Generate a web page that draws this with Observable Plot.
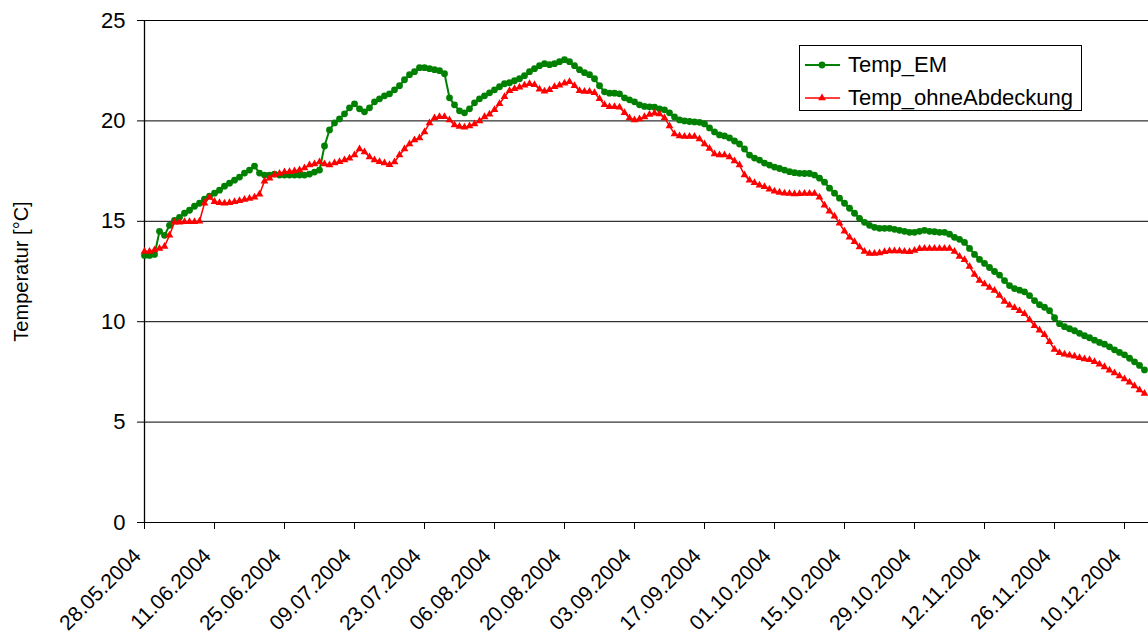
<!DOCTYPE html>
<html>
<head>
<meta charset="utf-8">
<script src="https://cdn.jsdelivr.net/npm/d3@7"></script>
<script src="https://cdn.jsdelivr.net/npm/@observablehq/plot@0.6"></script>
<style>
  html, body { margin: 0; padding: 0; background: #fff; }
  #wrap { position: relative; width: 1148px; height: 638px; overflow: hidden; font-family: "Liberation Sans", Arial, sans-serif; }
  #legend { position: absolute; left: 799px; top: 45px; width: 281px; height: 64px; border: 1px solid #000; background: #fff; font-size: 22px; color: #000; }
  .row { position: absolute; left: 0; height: 30px; display: flex; align-items: center; }
  .row svg { margin-left: 5px; margin-right: 8px; }
</style>
</head>
<body>
<div id="wrap">
  <div id="chart"></div>
  <div id="legend"></div>
</div>
<script>
// ---- data (daily values) ----
const startDate = "2004-05-28";
const seriesNames = ["Temp_EM", "Temp_ohneAbdeckung"];
const seriesColors = ["#008000", "#ff0000"];
const tempEM = [
13.3,13.3,13.35,14.5,14.3,14.8,15.05,15.2,15.4,15.55,
15.75,15.9,16.1,16.25,16.4,16.55,16.75,16.9,17.05,17.2,
17.4,17.55,17.75,17.4,17.3,17.3,17.35,17.3,17.3,17.3,
17.3,17.3,17.3,17.35,17.45,17.55,18.75,19.55,19.9,20.1,
20.35,20.65,20.85,20.6,20.45,20.65,20.95,21.1,21.25,21.35,
21.55,21.75,22.05,22.3,22.45,22.65,22.65,22.6,22.55,22.5,
22.35,21.15,20.8,20.5,20.4,20.6,20.9,21.1,21.25,21.4,
21.55,21.7,21.85,21.9,22.0,22.1,22.25,22.45,22.6,22.75,
22.85,22.8,22.85,22.95,23.05,22.95,22.75,22.55,22.4,22.3,
22.1,21.75,21.45,21.38,21.38,21.35,21.15,21.05,20.95,20.8,
20.72,20.7,20.68,20.6,20.55,20.4,20.2,20.05,20.0,19.97,
19.95,19.93,19.85,19.65,19.45,19.3,19.25,19.15,19.0,18.85,
18.6,18.3,18.15,18.05,17.9,17.8,17.7,17.63,17.55,17.47,
17.42,17.39,17.38,17.38,17.3,17.15,16.95,16.65,16.4,16.15,
15.9,15.65,15.4,15.15,14.95,14.8,14.7,14.65,14.65,14.65,
14.6,14.55,14.5,14.45,14.45,14.5,14.55,14.5,14.48,14.45,
14.45,14.36,14.2,14.1,13.95,13.65,13.35,13.1,12.9,12.7,
12.5,12.32,12.05,11.8,11.65,11.57,11.49,11.3,11.05,10.85,
10.72,10.55,10.2,9.9,9.75,9.65,9.55,9.42,9.3,9.2,
9.08,8.97,8.88,8.75,8.6,8.47,8.35,8.18,8.0,7.82,
7.6
];
const tempOhne = [
13.5,13.5,13.57,13.65,13.75,14.3,14.95,14.95,14.98,14.98,
14.98,15.0,15.9,16.2,15.98,15.92,15.9,15.92,15.97,16.02,
16.08,16.13,16.2,16.35,17.0,17.15,17.3,17.38,17.45,17.47,
17.5,17.56,17.65,17.8,17.85,17.95,17.85,17.8,17.9,17.97,
18.05,18.14,18.3,18.6,18.45,18.2,18.05,17.97,17.9,17.82,
17.95,18.3,18.6,18.85,19.05,19.15,19.45,19.9,20.15,20.21,
20.21,20.05,19.8,19.72,19.68,19.75,19.85,20.0,20.2,20.33,
20.55,20.85,21.2,21.5,21.6,21.68,21.78,21.85,21.8,21.58,
21.48,21.55,21.7,21.78,21.88,21.95,21.75,21.5,21.46,21.46,
21.4,21.1,20.8,20.71,20.71,20.68,20.4,20.15,20.05,20.1,
20.2,20.32,20.38,20.35,20.15,19.75,19.35,19.25,19.22,19.22,
19.22,19.1,18.85,18.62,18.35,18.3,18.3,18.2,18.0,17.8,
17.3,17.05,16.92,16.8,16.72,16.6,16.5,16.44,16.4,16.38,
16.36,16.37,16.39,16.39,16.39,16.2,15.8,15.5,15.25,14.9,
14.5,14.2,13.98,13.72,13.5,13.4,13.4,13.42,13.48,13.52,
13.52,13.52,13.5,13.48,13.55,13.63,13.65,13.65,13.65,13.65,
13.65,13.65,13.5,13.25,13.08,12.75,12.35,12.05,11.88,11.7,
11.55,11.3,11.0,10.82,10.7,10.55,10.4,10.1,9.8,9.58,
9.35,9.0,8.62,8.45,8.38,8.33,8.28,8.2,8.14,8.1,
8.0,7.88,7.75,7.58,7.45,7.3,7.15,6.98,6.8,6.6,
6.42
];
const xTickLabels = ["28.05.2004","11.06.2004","25.06.2004","09.07.2004","23.07.2004","06.08.2004","20.08.2004","03.09.2004","17.09.2004","01.10.2004","15.10.2004","29.10.2004","12.11.2004","26.11.2004","10.12.2004"];
const yTicks = [0, 5, 10, 15, 20, 25];
const yLabel = "Temperatur [°C]";

// ---- build ----
const DAY = 864e5;
const t0 = new Date(startDate + "T00:00:00Z");
const parse = d3.utcParse("%d.%m.%Y");
const xTickDates = xTickLabels.map(parse);
const rows = [];
tempEM.forEach((v, i) => rows.push({date: new Date(+t0 + i * DAY), value: v, series: seriesNames[0]}));
tempOhne.forEach((v, i) => rows.push({date: new Date(+t0 + i * DAY), value: v, series: seriesNames[1]}));
const em = rows.filter(d => d.series === seriesNames[0]);
const oh = rows.filter(d => d.series === seriesNames[1]);
const xEnd = new Date(+t0 + 200.8 * DAY);
const fmt = d3.utcFormat("%d.%m.%Y");

const chart = Plot.plot({
  width: 1148,
  height: 638,
  marginLeft: 144,
  marginRight: 0,
  marginTop: 20,
  marginBottom: 116,
  style: {fontFamily: '"Liberation Sans", Arial, sans-serif', fontSize: "22px", color: "#000", background: "#fff"},
  x: {type: "utc", domain: [t0, xEnd]},
  y: {domain: [0, 25]},
  marks: [
    Plot.ruleY(yTicks, {stroke: "#000", strokeWidth: 1}),
    Plot.ruleX([t0], {y1: 0, y2: 25, stroke: "#000", strokeWidth: 1.3}),
    Plot.axisY({ticks: yTicks, tickSize: 7, tickPadding: 12, stroke: "#000", strokeOpacity: 1, fontSize: 22, label: null}),
    Plot.text([yLabel], {frameAnchor: "left", textAnchor: "middle", rotate: -90, dx: -123, fontSize: 20, fill: "#000"}),
    Plot.axisX({ticks: xTickDates, tickSize: 7, tickFormat: () => "", stroke: "#000", strokeOpacity: 1, label: null}),
    Plot.text(xTickDates, {x: d => d, text: d => fmt(d), frameAnchor: "bottom", rotate: -45, textAnchor: "end", lineAnchor: "middle", dx: -7, dy: 30, fontSize: 21, fill: "#000"}),
    Plot.line(em, {x: "date", y: "value", stroke: seriesColors[0], strokeWidth: 2}),
    Plot.dot(em, {x: "date", y: "value", r: 3.4, fill: seriesColors[0], stroke: "none"}),
    Plot.line(oh, {x: "date", y: "value", stroke: seriesColors[1], strokeWidth: 1.5}),
    Plot.dot(oh, {x: "date", y: "value", symbol: "triangle", r: 2.9, fill: seriesColors[1], stroke: "none"})
  ]
});
document.getElementById("chart").appendChild(chart);

// ---- legend ----
const legend = document.getElementById("legend");
seriesNames.forEach((name, i) => {
  const row = document.createElement("div");
  row.className = "row";
  row.style.top = (i === 0 ? 4 : 37) + "px";
  const sym = i === 0
    ? `<circle cx="17" cy="10" r="3.4" fill="${seriesColors[i]}"/>`
    : `<path d="${d3.symbol(d3.symbolTriangle, 2.9 * 2.9 * Math.PI)()}" transform="translate(17,10)" fill="${seriesColors[i]}"/>`;
  row.innerHTML = `<svg width="35" height="20"><line x1="0" x2="35" y1="10" y2="10" stroke="${seriesColors[i]}" stroke-width="${i === 0 ? 2 : 1.5}"/>${sym}</svg><span>${name}</span>`;
  legend.appendChild(row);
});
</script>
</body>
</html>
